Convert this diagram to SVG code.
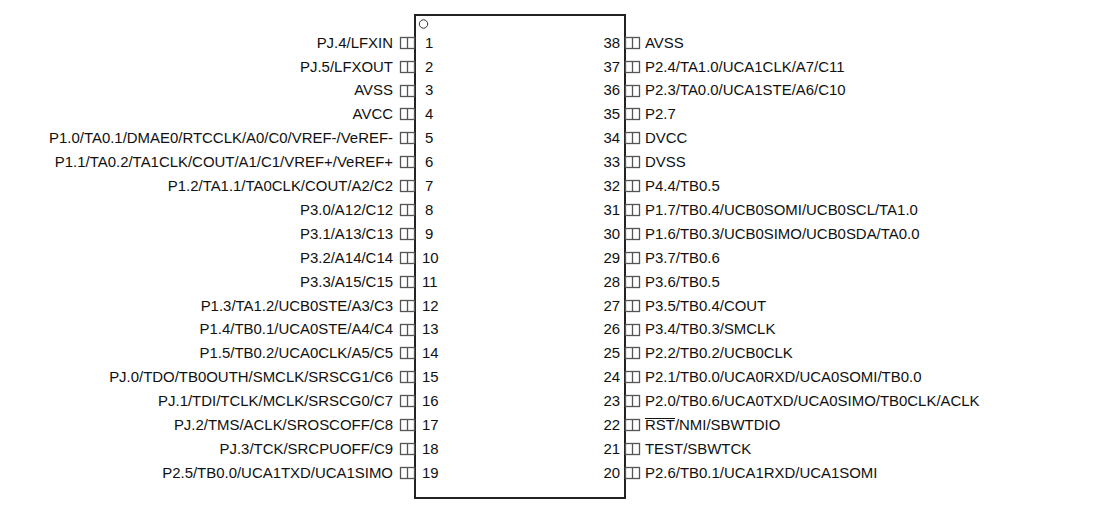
<svg xmlns="http://www.w3.org/2000/svg" width="1120" height="506" viewBox="0 0 1120 506">
<style>
text{font-family:"Liberation Sans",Arial,sans-serif;font-size:14.95px;fill:#111}
.e{text-anchor:end}
.p{fill:none;stroke:#555;stroke-width:1.3}
.b{fill:none;stroke:#222;stroke-width:2}
</style>
<defs><g id="pin"><rect class="p" x="0.5" y="-5.5" width="14" height="11"/><path class="p" d="M7.500-5.500V5.500"/></g></defs>
<g id="body"><rect class="b" x="415" y="15" width="210" height="483"/><circle cx="423.500" cy="24" r="4.200" fill="none" stroke="#333"/></g>
<g id="left-pins">
<g id="pin1"><use href="#pin" x="400" y="43"/><text class="e" x="393" y="48">PJ.4/LFXIN</text><text x="425" y="48">1</text></g>
<g id="pin2"><use href="#pin" x="400" y="67"/><text class="e" x="393" y="72">PJ.5/LFXOUT</text><text x="425" y="72">2</text></g>
<g id="pin3"><use href="#pin" x="400" y="91"/><text class="e" x="393" y="95">AVSS</text><text x="425" y="95">3</text></g>
<g id="pin4"><use href="#pin" x="400" y="114"/><text class="e" x="393" y="119">AVCC</text><text x="425" y="119">4</text></g>
<g id="pin5"><use href="#pin" x="400" y="138"/><text class="e" x="393" y="143">P1.0/TA0.1/DMAE0/RTCCLK/A0/C0/VREF-/VeREF-</text><text x="425" y="143">5</text></g>
<g id="pin6"><use href="#pin" x="400" y="162"/><text class="e" x="393" y="167">P1.1/TA0.2/TA1CLK/COUT/A1/C1/VREF+/VeREF+</text><text x="425" y="167">6</text></g>
<g id="pin7"><use href="#pin" x="400" y="186"/><text class="e" x="393" y="191">P1.2/TA1.1/TA0CLK/COUT/A2/C2</text><text x="425" y="191">7</text></g>
<g id="pin8"><use href="#pin" x="400" y="210"/><text class="e" x="393" y="215">P3.0/A12/C12</text><text x="425" y="215">8</text></g>
<g id="pin9"><use href="#pin" x="400" y="234"/><text class="e" x="393" y="239">P3.1/A13/C13</text><text x="425" y="239">9</text></g>
<g id="pin10"><use href="#pin" x="400" y="258"/><text class="e" x="393" y="263">P3.2/A14/C14</text><text x="422" y="263">10</text></g>
<g id="pin11"><use href="#pin" x="400" y="282"/><text class="e" x="393" y="287">P3.3/A15/C15</text><text x="422" y="287">11</text></g>
<g id="pin12"><use href="#pin" x="400" y="306"/><text class="e" x="393" y="311">P1.3/TA1.2/UCB0STE/A3/C3</text><text x="422" y="311">12</text></g>
<g id="pin13"><use href="#pin" x="400" y="330"/><text class="e" x="393" y="334">P1.4/TB0.1/UCA0STE/A4/C4</text><text x="422" y="334">13</text></g>
<g id="pin14"><use href="#pin" x="400" y="353"/><text class="e" x="393" y="358">P1.5/TB0.2/UCA0CLK/A5/C5</text><text x="422" y="358">14</text></g>
<g id="pin15"><use href="#pin" x="400" y="377"/><text class="e" x="393" y="382">PJ.0/TDO/TB0OUTH/SMCLK/SRSCG1/C6</text><text x="422" y="382">15</text></g>
<g id="pin16"><use href="#pin" x="400" y="401"/><text class="e" x="393" y="406">PJ.1/TDI/TCLK/MCLK/SRSCG0/C7</text><text x="422" y="406">16</text></g>
<g id="pin17"><use href="#pin" x="400" y="425"/><text class="e" x="393" y="430">PJ.2/TMS/ACLK/SROSCOFF/C8</text><text x="422" y="430">17</text></g>
<g id="pin18"><use href="#pin" x="400" y="449"/><text class="e" x="393" y="454">PJ.3/TCK/SRCPUOFF/C9</text><text x="422" y="454">18</text></g>
<g id="pin19"><use href="#pin" x="400" y="473"/><text class="e" x="393" y="478">P2.5/TB0.0/UCA1TXD/UCA1SIMO</text><text x="422" y="478">19</text></g>
</g>
<g id="right-pins">
<g id="pin38"><use href="#pin" x="625" y="43"/><text x="645" y="48">AVSS</text><text class="e" x="620" y="48">38</text></g>
<g id="pin37"><use href="#pin" x="625" y="67"/><text x="645" y="72">P2.4/TA1.0/UCA1CLK/A7/C11</text><text class="e" x="620" y="72">37</text></g>
<g id="pin36"><use href="#pin" x="625" y="91"/><text x="645" y="95">P2.3/TA0.0/UCA1STE/A6/C10</text><text class="e" x="620" y="95">36</text></g>
<g id="pin35"><use href="#pin" x="625" y="114"/><text x="645" y="119">P2.7</text><text class="e" x="620" y="119">35</text></g>
<g id="pin34"><use href="#pin" x="625" y="138"/><text x="645" y="143">DVCC</text><text class="e" x="620" y="143">34</text></g>
<g id="pin33"><use href="#pin" x="625" y="162"/><text x="645" y="167">DVSS</text><text class="e" x="620" y="167">33</text></g>
<g id="pin32"><use href="#pin" x="625" y="186"/><text x="645" y="191">P4.4/TB0.5</text><text class="e" x="620" y="191">32</text></g>
<g id="pin31"><use href="#pin" x="625" y="210"/><text x="645" y="215">P1.7/TB0.4/UCB0SOMI/UCB0SCL/TA1.0</text><text class="e" x="620" y="215">31</text></g>
<g id="pin30"><use href="#pin" x="625" y="234"/><text x="645" y="239">P1.6/TB0.3/UCB0SIMO/UCB0SDA/TA0.0</text><text class="e" x="620" y="239">30</text></g>
<g id="pin29"><use href="#pin" x="625" y="258"/><text x="645" y="263">P3.7/TB0.6</text><text class="e" x="620" y="263">29</text></g>
<g id="pin28"><use href="#pin" x="625" y="282"/><text x="645" y="287">P3.6/TB0.5</text><text class="e" x="620" y="287">28</text></g>
<g id="pin27"><use href="#pin" x="625" y="306"/><text x="645" y="311">P3.5/TB0.4/COUT</text><text class="e" x="620" y="311">27</text></g>
<g id="pin26"><use href="#pin" x="625" y="330"/><text x="645" y="334">P3.4/TB0.3/SMCLK</text><text class="e" x="620" y="334">26</text></g>
<g id="pin25"><use href="#pin" x="625" y="353"/><text x="645" y="358">P2.2/TB0.2/UCB0CLK</text><text class="e" x="620" y="358">25</text></g>
<g id="pin24"><use href="#pin" x="625" y="377"/><text x="645" y="382">P2.1/TB0.0/UCA0RXD/UCA0SOMI/TB0.0</text><text class="e" x="620" y="382">24</text></g>
<g id="pin23"><use href="#pin" x="625" y="401"/><text x="645" y="406">P2.0/TB0.6/UCA0TXD/UCA0SIMO/TB0CLK/ACLK</text><text class="e" x="620" y="406">23</text></g>
<g id="pin22"><use href="#pin" x="625" y="425"/><text x="645" y="430">RST/NMI/SBWTDIO</text><text class="e" x="620" y="430">22</text><path d="M645 418.500H675" stroke="#111" fill="none"/></g>
<g id="pin21"><use href="#pin" x="625" y="449"/><text x="645" y="454">TEST/SBWTCK</text><text class="e" x="620" y="454">21</text></g>
<g id="pin20"><use href="#pin" x="625" y="473"/><text x="645" y="478">P2.6/TB0.1/UCA1RXD/UCA1SOMI</text><text class="e" x="620" y="478">20</text></g>
</g>
<g id="connectors"></g>
</svg>
